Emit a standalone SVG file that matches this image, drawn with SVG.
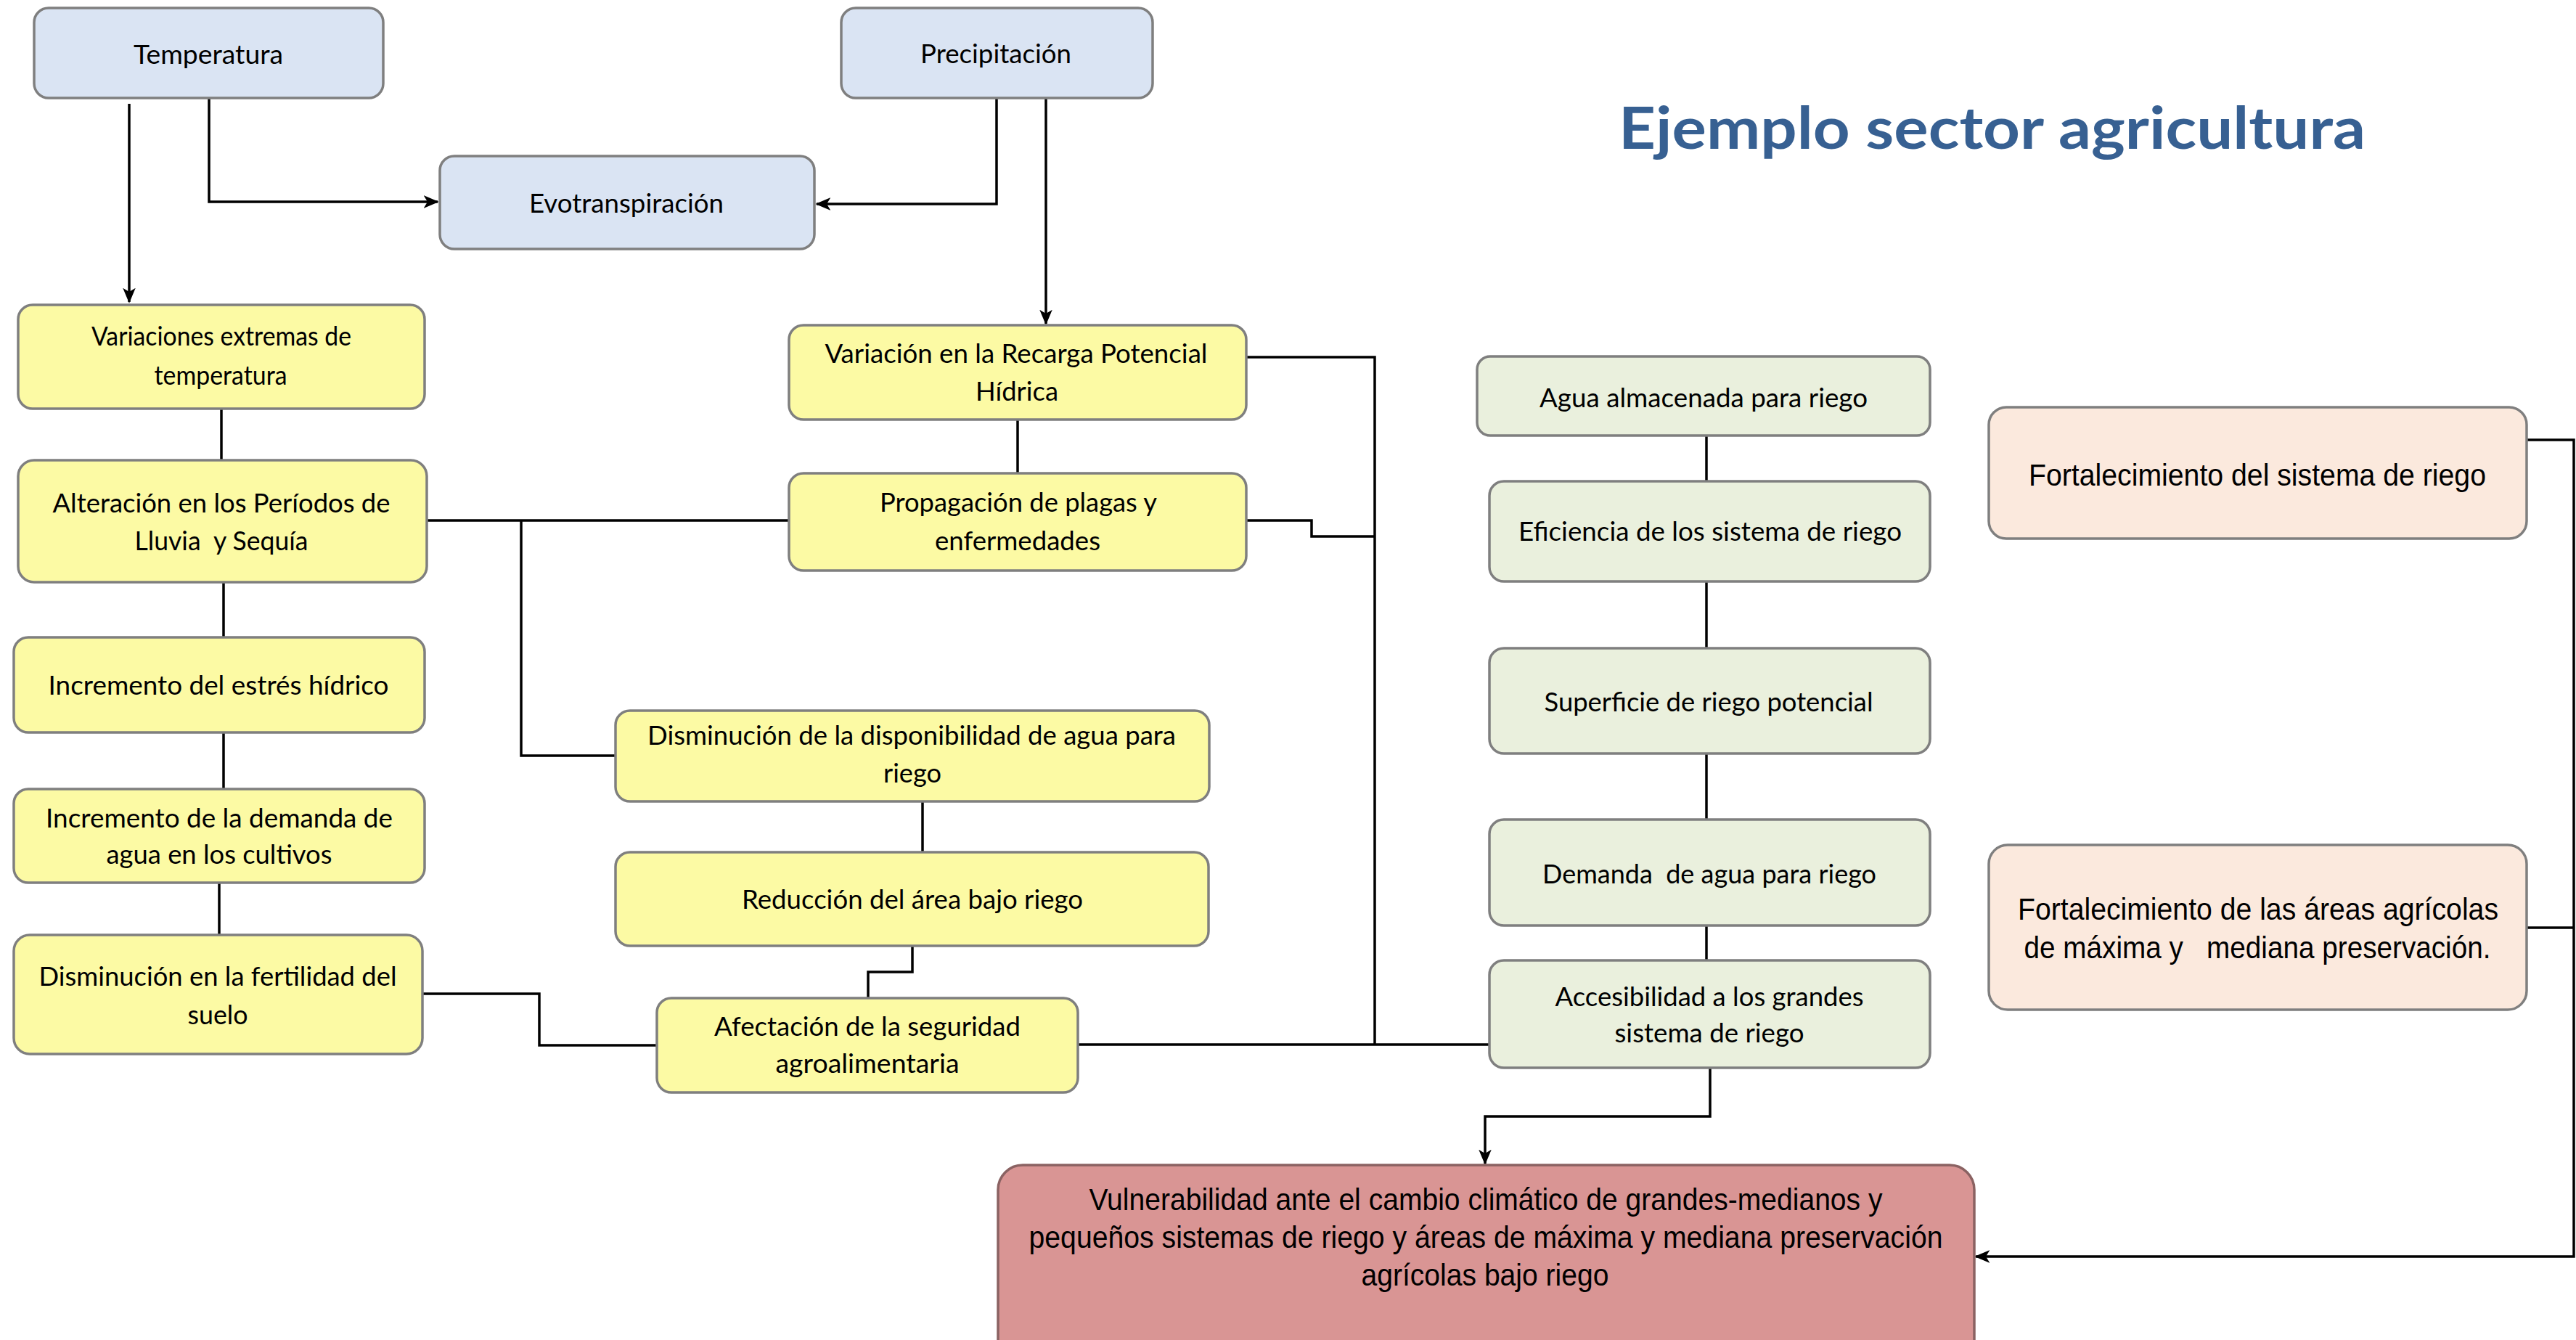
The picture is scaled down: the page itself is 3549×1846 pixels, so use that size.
<svg xmlns="http://www.w3.org/2000/svg" width="3549" height="1846" viewBox="0 0 3549 1846">
<style>
.box{stroke:#7f7f7f;stroke-width:3.5}
.b{fill:#dae4f3}
.y{fill:#fcfaa4}
.g{fill:#eaf0dd}
.p{fill:#fbe9dd}
.r{fill:#d99594;stroke:#8a6262}
.t{font-family:Lato,"Open Sans",sans-serif;font-size:36px;fill:#000;text-anchor:middle;white-space:pre}
.a{font-family:"Liberation Sans",Arial,sans-serif;font-size:43px;fill:#000;text-anchor:middle;white-space:pre}
.title{font-family:Lato,"Open Sans",sans-serif;font-weight:bold;font-size:81px;fill:#376092}
.c{fill:none;stroke:#000;stroke-width:3.5}
</style>
<defs>
<marker id="ar" viewBox="0 0 12 10" refX="11" refY="5" markerWidth="6" markerHeight="5" orient="auto" markerUnits="strokeWidth">
<path d="M0,0 L12,5 L0,10 L3,5 z" fill="#000"/>
</marker>
</defs>
<rect width="3549" height="1846" fill="#fff"/>

<g id="connectors">
<path class="c" d="M178,143 V416" marker-end="url(#ar)"/>
<path class="c" d="M288,135 V278 H603" marker-end="url(#ar)"/>
<path class="c" d="M1373,135 V281 H1125" marker-end="url(#ar)"/>
<path class="c" d="M1441,135 V446" marker-end="url(#ar)"/>
<path class="c" d="M305,563 V634"/>
<path class="c" d="M1402,578 V652"/>
<path class="c" d="M1717,492 H1894 V1439"/>
<path class="c" d="M1717,717 H1807 V739 H1894"/>
<path class="c" d="M588,717 H1087"/>
<path class="c" d="M718,717 V1041 H848"/>
<path class="c" d="M308,802 V878"/>
<path class="c" d="M308,1009 V1087"/>
<path class="c" d="M302,1216 V1288"/>
<path class="c" d="M582,1369 H743 V1440 H905"/>
<path class="c" d="M1271,1104 V1174"/>
<path class="c" d="M1257,1303 V1339 H1196 V1375"/>
<path class="c" d="M1485,1439 H2052"/>
<path class="c" d="M2351,600 V663"/>
<path class="c" d="M2351,801 V893"/>
<path class="c" d="M2351,1038 V1129"/>
<path class="c" d="M2351,1275 V1323"/>
<path class="c" d="M2356,1471 V1538 H2046 V1603" marker-end="url(#ar)"/>
<path class="c" d="M3481,606 H3546 V1731 H2722" marker-end="url(#ar)"/>
<path class="c" d="M3481,1278 H3546"/>
</g>

<g id="title"><text class="title" x="2230" y="205" textLength="1029" lengthAdjust="spacingAndGlyphs">Ejemplo sector agricultura</text></g>

<g id="n-temperatura"><rect class="box b" x="47" y="11" width="481" height="124" rx="20"/><text class="t" x="287" y="88" textLength="206" lengthAdjust="spacingAndGlyphs">Temperatura</text></g>
<g id="n-precipitacion"><rect class="box b" x="1159" y="11" width="429" height="124" rx="20"/><text class="t" x="1372" y="87" textLength="208" lengthAdjust="spacingAndGlyphs">Precipitación</text></g>
<g id="n-evotranspiracion"><rect class="box b" x="606" y="215" width="516" height="128" rx="20"/><text class="t" x="863" y="293" textLength="268" lengthAdjust="spacingAndGlyphs">Evotranspiración</text></g>

<g id="n-variaciones"><rect class="box y" x="25" y="420" width="560" height="143" rx="20"/><text class="t" x="305" y="476" textLength="358" lengthAdjust="spacingAndGlyphs">Variaciones extremas de</text><text class="t" x="304" y="530" textLength="183" lengthAdjust="spacingAndGlyphs">temperatura</text></g>
<g id="n-recarga"><rect class="box y" x="1087" y="448" width="630" height="130" rx="20"/><text class="t" x="1400" y="500" textLength="527" lengthAdjust="spacingAndGlyphs">Variación en la Recarga Potencial</text><text class="t" x="1401" y="552" textLength="114" lengthAdjust="spacingAndGlyphs">Hídrica</text></g>
<g id="n-propagacion"><rect class="box y" x="1087" y="652" width="630" height="134" rx="20"/><text class="t" x="1403" y="705" textLength="382" lengthAdjust="spacingAndGlyphs">Propagación de plagas y</text><text class="t" x="1402" y="758" textLength="228" lengthAdjust="spacingAndGlyphs">enfermedades</text></g>
<g id="n-alteracion"><rect class="box y" x="25" y="634" width="563" height="168" rx="22"/><text class="t" x="305" y="706" textLength="465" lengthAdjust="spacingAndGlyphs">Alteración en los Períodos de</text><text class="t" x="305" y="758" textLength="239" lengthAdjust="spacingAndGlyphs">Lluvia  y Sequía</text></g>
<g id="n-estres"><rect class="box y" x="19" y="878" width="566" height="131" rx="20"/><text class="t" x="301" y="957" textLength="469" lengthAdjust="spacingAndGlyphs">Incremento del estrés hídrico</text></g>
<g id="n-demanda-cultivos"><rect class="box y" x="19" y="1087" width="566" height="129" rx="20"/><text class="t" x="302" y="1140" textLength="478" lengthAdjust="spacingAndGlyphs">Incremento de la demanda de</text><text class="t" x="302" y="1190" textLength="311" lengthAdjust="spacingAndGlyphs">agua en los cultivos</text></g>
<g id="n-fertilidad"><rect class="box y" x="19" y="1288" width="563" height="164" rx="22"/><text class="t" x="300" y="1358" textLength="493" lengthAdjust="spacingAndGlyphs">Disminución en la fertilidad del</text><text class="t" x="300" y="1411" textLength="83" lengthAdjust="spacingAndGlyphs">suelo</text></g>
<g id="n-disponibilidad"><rect class="box y" x="848" y="979" width="818" height="125" rx="20"/><text class="t" x="1256" y="1026" textLength="728" lengthAdjust="spacingAndGlyphs">Disminución de la disponibilidad de agua para</text><text class="t" x="1257" y="1078" textLength="80" lengthAdjust="spacingAndGlyphs">riego</text></g>
<g id="n-reduccion"><rect class="box y" x="848" y="1174" width="817" height="129" rx="20"/><text class="t" x="1257" y="1252" textLength="470" lengthAdjust="spacingAndGlyphs">Reducción del área bajo riego</text></g>
<g id="n-afectacion"><rect class="box y" x="905" y="1375" width="580" height="130" rx="20"/><text class="t" x="1195" y="1427" textLength="422" lengthAdjust="spacingAndGlyphs">Afectación de la seguridad</text><text class="t" x="1195" y="1478" textLength="253" lengthAdjust="spacingAndGlyphs">agroalimentaria</text></g>

<g id="n-agua"><rect class="box g" x="2035" y="491" width="624" height="109" rx="18"/><text class="t" x="2347" y="561" textLength="452" lengthAdjust="spacingAndGlyphs">Agua almacenada para riego</text></g>
<g id="n-eficiencia"><rect class="box g" x="2052" y="663" width="607" height="138" rx="20"/><text class="t" x="2356" y="745" textLength="528" lengthAdjust="spacingAndGlyphs">Eficiencia de los sistema de riego</text></g>
<g id="n-superficie"><rect class="box g" x="2052" y="893" width="607" height="145" rx="20"/><text class="t" x="2354" y="980" textLength="453" lengthAdjust="spacingAndGlyphs">Superficie de riego potencial</text></g>
<g id="n-demanda-riego"><rect class="box g" x="2052" y="1129" width="607" height="146" rx="20"/><text class="t" x="2355" y="1217" textLength="460" lengthAdjust="spacingAndGlyphs">Demanda  de agua para riego</text></g>
<g id="n-accesibilidad"><rect class="box g" x="2052" y="1323" width="607" height="148" rx="20"/><text class="t" x="2355" y="1386" textLength="425" lengthAdjust="spacingAndGlyphs">Accesibilidad a los grandes</text><text class="t" x="2355" y="1436" textLength="261" lengthAdjust="spacingAndGlyphs">sistema de riego</text></g>

<g id="n-fort-sistema"><rect class="box p" x="2740" y="561" width="741" height="181" rx="24"/><text class="a" x="3110" y="669" textLength="630" lengthAdjust="spacingAndGlyphs">Fortalecimiento del sistema de riego</text></g>
<g id="n-fort-areas"><rect class="box p" x="2740" y="1164" width="741" height="227" rx="26"/><text class="a" x="3111" y="1267" textLength="662" lengthAdjust="spacingAndGlyphs">Fortalecimiento de las áreas agrícolas</text><text class="a" x="3110" y="1320" textLength="643" lengthAdjust="spacingAndGlyphs">de máxima y   mediana preservación.</text></g>

<g id="n-vulnerabilidad"><rect class="box r" x="1375" y="1605" width="1345" height="290" rx="34"/><text class="a" x="2047" y="1667" textLength="1093" lengthAdjust="spacingAndGlyphs">Vulnerabilidad ante el cambio climático de grandes-medianos y</text><text class="a" x="2047" y="1719" textLength="1259" lengthAdjust="spacingAndGlyphs">pequeños sistemas de riego y áreas de máxima y mediana preservación</text><text class="a" x="2046" y="1771" textLength="341" lengthAdjust="spacingAndGlyphs">agrícolas bajo riego</text></g>
</svg>
